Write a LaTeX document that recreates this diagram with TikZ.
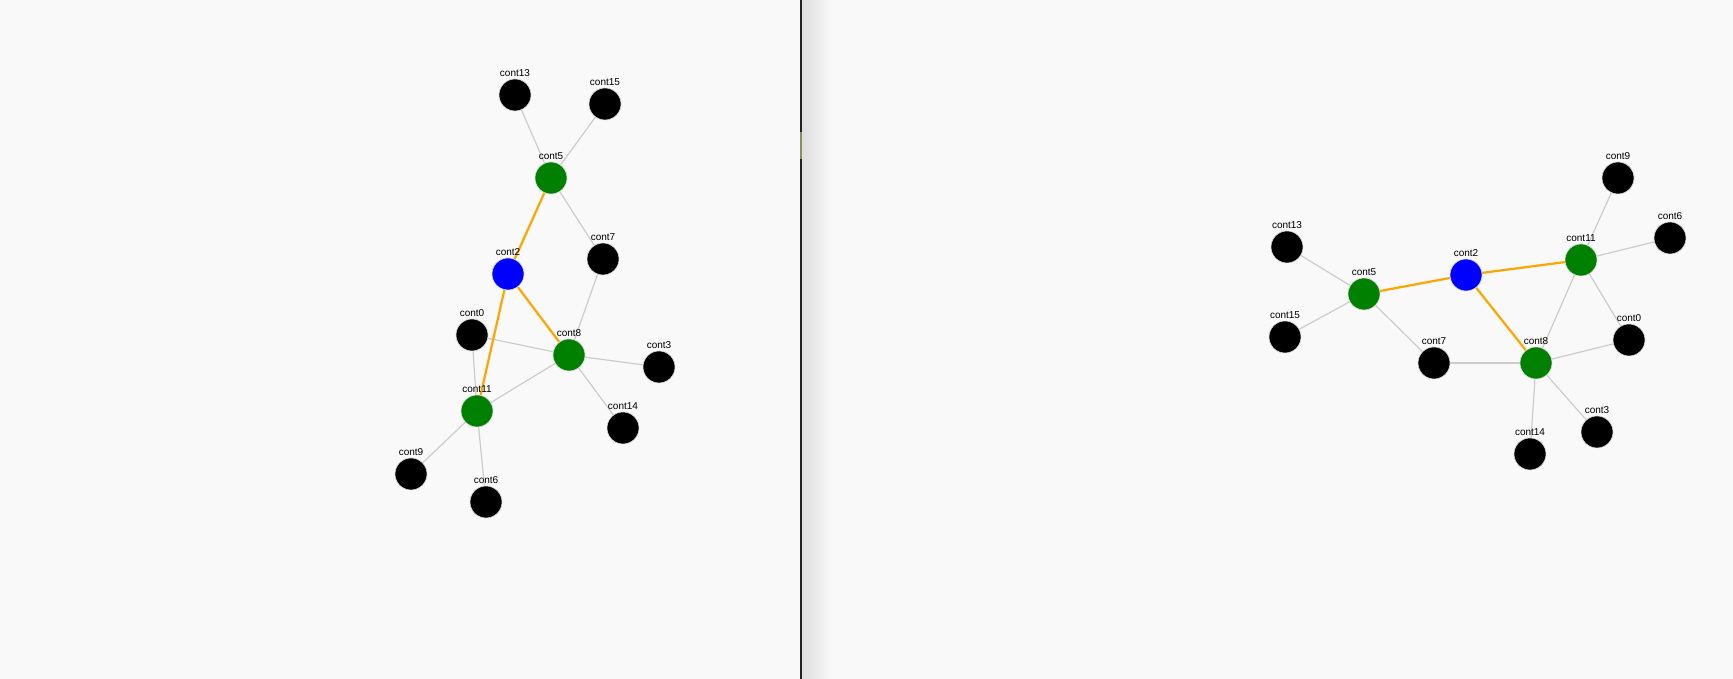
\documentclass[tikz,border=0pt]{standalone}
\usepackage{fontspec}
\setmainfont{Liberation Sans}
\usetikzlibrary{backgrounds}
\definecolor{bgpanel}{HTML}{F9F9F9}
\definecolor{linkgray}{HTML}{CCCCCC}
\definecolor{hotlink}{HTML}{FFA500}
\definecolor{hubgreen}{HTML}{008000}
\definecolor{rootblue}{HTML}{0000FF}
\definecolor{divider}{HTML}{222222}
\definecolor{splitmark}{HTML}{8C8C5E}

\begin{document}
\begin{tikzpicture}[x=1pt, y=1pt,
    vtx/.style={circle, minimum size=32pt, inner sep=0pt, fill=black, draw=white!85!black, line width=0.6pt},
    hub/.style={vtx, fill=hubgreen},
    root/.style={vtx, fill=rootblue},
    lbl/.style={anchor=base, label distance=2pt, font=\fontsize{10}{12}\selectfont},
    link/.style={linkgray, line width=1.2pt},
    hot/.style={hotlink, line width=2.2pt}]
    \useasboundingbox (0,0) rectangle (1733,679);

    % Left panel nodes
    \foreach \n/\x/\y in {13/515/584, 15/605/575, 7/603/420, 0/472/344, 3/659/312, 14/623/251, 9/411/205, 6/486/177} {
        \node[vtx, label={[lbl]90:cont\n}] (L\n) at (\x,\y) {};
    }
    \node[hub, label={[lbl]90:cont5}] (L5) at (551,501) {};
    \node[hub, label={[lbl]90:cont8}] (L8) at (569,324) {};
    \node[hub, label={[lbl]90:cont11}] (L11) at (477,268) {};
    \node[root, label={[lbl]90:cont2}] (L2) at (508,405) {};

    % Right panel nodes
    \foreach \n/\x/\y in {9/1618/501, 6/1670/441, 13/1287/432, 15/1285/342, 0/1629/339, 7/1434/316, 3/1597/247, 14/1530/225} {
        \node[vtx, label={[lbl]90:cont\n}] (R\n) at (\x,\y) {};
    }
    \node[hub, label={[lbl]90:cont5}] (R5) at (1364,385) {};
    \node[hub, label={[lbl]90:cont8}] (R8) at (1536,316) {};
    \node[hub, label={[lbl]90:cont11}] (R11) at (1581,419) {};
    \node[root, label={[lbl]90:cont2}] (R2) at (1466,404) {};

    \begin{scope}[on background layer]
        % Panels and divider
        \fill[bgpanel] (0,0) rectangle (1733,679);
        \shade[left color=black!13, right color=bgpanel] (802,0) rectangle (832,679);
        \fill[divider] (800,0) rectangle (802,679);
        \fill[splitmark] (800,520) rectangle (802,547);

        % Links
        \foreach \s in {L, R} {
            \foreach \a/\b in {13/5, 15/5, 5/7, 7/8, 0/8, 8/3, 8/14, 8/11, 11/0, 11/9, 11/6} {
                \draw[link] (\s\a) -- (\s\b);
            }
            \draw[hot] (\s5) -- (\s2);
            \draw[hot] (\s2) -- (\s8);
            \draw[hot] (\s2) -- (\s11);
        }
    \end{scope}
\end{tikzpicture}
\end{document}
